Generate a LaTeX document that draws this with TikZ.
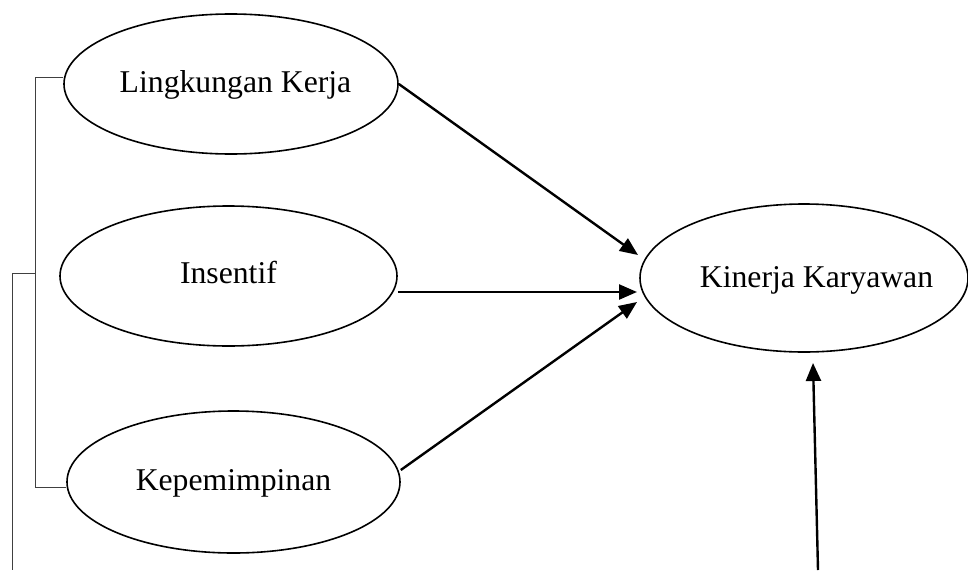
\documentclass[tikz,border=0pt]{standalone}
\usepackage{fontspec}
\setmainfont{Liberation Serif}
\usetikzlibrary{arrows.meta,shapes.geometric}
\begin{document}
\begin{tikzpicture}[x=1pt,y=-1pt,
  oval/.style={draw,ellipse,line width=1.6pt,inner sep=0pt},
  lbl/.style={anchor=base,inner sep=0pt,font=\fontsize{31.7}{38}\selectfont},
  arr/.style={line width=2.4pt,-{Triangle[length=18pt,width=15pt]}},
  brk/.style={draw=black!75,line width=1pt}]
\useasboundingbox (0,0) rectangle (968,570);

% variables
\node[oval,minimum width=334pt,minimum height=140pt] (e1) at (231,84) {};
\node[oval,minimum width=337pt,minimum height=140pt] (e2) at (228.5,276) {};
\node[oval,minimum width=333pt,minimum height=142pt] (e3) at (233.5,482) {};
\node[oval,minimum width=328pt,minimum height=148pt] (e4) at (804,278) {};

\node[lbl] (t1) at (235.5,92) {Lingkungan Kerja};
\node[lbl] (t2) at (228.5,283) {Insentif};
\node[lbl] (t3) at (233.5,490) {Kepemimpinan};
\node[lbl] (t4) at (816.5,287) {Kinerja Karyawan};

% arrow tips and free ends
\coordinate (k1) at (638,255);
\coordinate (k2) at (637,292);
\coordinate (k3) at (637,302);
\coordinate (k4) at (813,363);
\coordinate (s4) at (818,570);

\draw[arr] (e1.east) -- (k1);
\draw[arr] (e2.east |- k2) -- (k2);
\draw[arr] ([yshift=12pt]e3.east) -- (k3);
\draw[arr] (s4) -- (k4);

% bracket on the left
\coordinate (b1) at (35,77);
\coordinate (b2) at (35,487);
\coordinate (bm) at (35,273);
\coordinate (bo) at (12,273);
\coordinate (bb) at (12,570);
\draw[brk] (e1.west |- b1) -- (b1) -- (b2) -- (e3.west |- b2);
\draw[brk] (bm) -- (bo) -- (bb);
\end{tikzpicture}
\end{document}
